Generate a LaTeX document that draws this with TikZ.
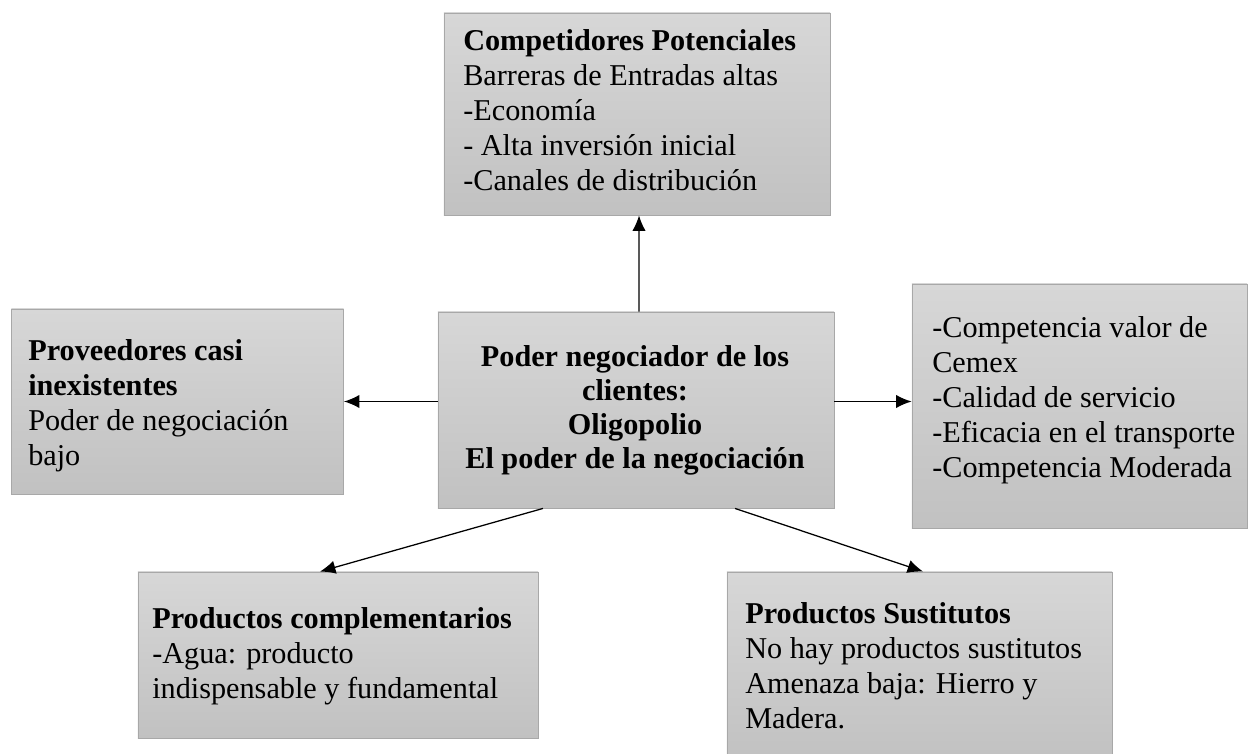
\documentclass[tikz,border=0pt]{standalone}
\usepackage{fontspec}
\setmainfont{Liberation Serif}
\usepackage{tikz}
\usetikzlibrary{arrows.meta}
\definecolor{boxtop}{RGB}{215,215,215}
\definecolor{boxbot}{RGB}{193,193,193}
\definecolor{boxline}{RGB}{168,168,168}

\begin{document}
\begin{tikzpicture}[
x = 0.025cm, y = -0.025cm,
fbox/.style={rectangle, draw = boxline, line width = 0.6pt,
top color = boxtop, bottom color = boxbot, inner sep = 0pt},
ftext/.style={anchor = north west, align = left, inner sep = 0pt,
font = \fontsize{21.5}{24.9}\selectfont},
farr/.style={-{Latex[length=11pt, width=9.5pt]}, line width = 0.9pt, draw = black}]

\clip (0,0) rectangle (1250,754);

\node[fbox, minimum width = 9.65cm, minimum height = 5.05cm] (comp) at (637,114) {};
\node[ftext] (compT) at (463,25.5) {\strut\textbf{Competidores Potenciales}\\Barreras de Entradas altas\\-Econom\'ia\\- Alta inversi\'on inicial\\-Canales de distribuci\'on};

\node[fbox, minimum width = 8.3cm, minimum height = 4.625cm] (prov) at (177.5,401.5) {};
\node[ftext] (provT) at (28,335.5) {\strut\textbf{Proveedores casi}\\\textbf{inexistentes}\\Poder de negociaci\'on\\bajo};

\node[fbox, minimum width = 9.9cm, minimum height = 4.9cm] (poder) at (636,410) {};
\node[ftext, anchor = north, align = center, font = \fontsize{21.5}{24.2}\selectfont\bfseries] (poderT) at (635,342.5) {\strut Poder negociador de los\\clientes:\\Oligopolio\\El poder de la negociaci\'on};

\node[fbox, minimum width = 8.375cm, minimum height = 6.1cm] (rival) at (1079.5,406) {};
\node[ftext] (rivalT) at (932,312.5) {\strut -Competencia valor de\\Cemex\\-Calidad de servicio\\-Eficacia en el transporte\\-Competencia Moderada};

\node[fbox, minimum width = 10cm, minimum height = 4.15cm] (compl) at (338,655) {};
\node[ftext] (complT) at (152,603.5) {\strut\textbf{Productos complementarios}\\-Agua: producto\\indispensable y fundamental};

\node[fbox, minimum width = 9.625cm, minimum height = 4.75cm] (sust) at (919.5,667) {};
\node[ftext] (sustT) at (745,598.5) {\strut\textbf{Productos Sustitutos}\\No hay productos sustitutos\\Amenaza baja: Hierro y\\Madera.};

% flechas
\draw[farr] ([xshift=0.075cm]poder.north) -- ([xshift=0.05cm]comp.south);
\draw[farr] (poder.west |- prov.east) -- (prov.east);
\draw[farr] (poder.east |- prov.east) -- (rival.west |- prov.east);
\draw[farr] ([xshift=-2.325cm]poder.south) -- ([xshift=-0.45cm]compl.north);
\draw[farr] ([xshift=2.475cm]poder.south) -- ([xshift=0.09cm]sust.north);
\end{tikzpicture}
\end{document}
